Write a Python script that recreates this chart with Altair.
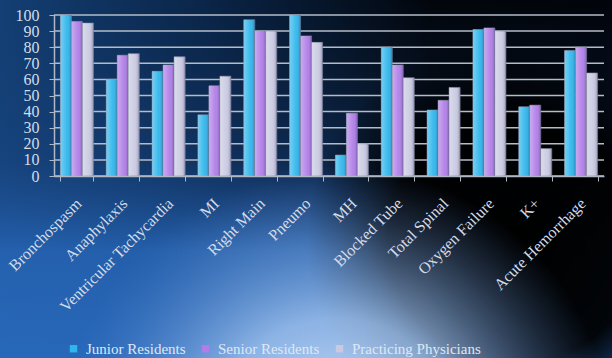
import altair as alt
import pandas as pd

categories = ["Bronchospasm", "Anaphylaxis", "Ventricular Tachycardia", "MI", "Right Main",
              "Pneumo", "MH", "Blocked Tube", "Total Spinal", "Oxygen Failure", "K+",
              "Acute Hemorrhage"]
series = ["Junior Residents", "Senior Residents", "Practicing Physicians"]
junior = [100, 60, 65, 38, 97, 100, 13, 80, 41, 91, 43, 78]
senior = [96, 75, 69, 56, 90, 87, 39, 69, 47, 92, 44, 80]
practicing = [95, 76, 74, 62, 90, 83, 20, 61, 55, 90, 17, 64]
grid_values = list(range(0, 101, 10))
colors = ["#2fb6ec", "#b07ee8", "#c9c9e2"]

rows = []
for vals, s in zip([junior, senior, practicing], series):
    for c, v in zip(categories, vals):
        rows.append({"Scenario": c, "Group": s, "Value": v})
df = pd.DataFrame(rows)
grid_df = pd.DataFrame({"Value": grid_values})

W, H = 550, 161
PL, PT = 54, 15
PR = 612 - W - PL
PB = 358 - H - PT

bg_df = pd.DataFrame({"k": [0]})

def bg_layer(fill):
    return alt.Chart(bg_df).mark_rect(color=fill).encode(
        x=alt.value(-PL), x2=alt.value(W + PR), y=alt.value(-PT), y2=alt.value(H + PB))

def stops(pairs):
    return [alt.GradientStop(offset=o, color=c) for o, c in pairs]

base_bg = bg_layer(alt.LinearGradient(
    gradient="linear", x1=0, y1=0, x2=1, y2=0,
    stops=stops([(0, "#133f74"), (0.35, "#0a2446"), (0.7, "#02060c"), (1, "#01040a")])))
vert_bg = bg_layer(alt.LinearGradient(
    gradient="linear", x1=0, y1=0, x2=0, y2=1,
    stops=stops([(0, "rgba(20,60,120,0)"), (0.45, "rgba(30,80,150,0.3)"),
                 (0.7, "rgba(38,100,180,0.9)"), (1, "rgba(40,104,186,1)")])))
dark_bg = bg_layer(alt.RadialGradient(
    gradient="radial", x1=0.84, y1=0.6, r1=0, x2=0.84, y2=0.6, r2=0.34,
    stops=stops([(0, "rgba(0,0,0,1)"), (0.6, "rgba(0,0,0,0.95)"), (1, "rgba(0,0,0,0)")])))
glow_bg = bg_layer(alt.RadialGradient(
    gradient="radial", x1=0.55, y1=0.93, r1=0, x2=0.55, y2=0.93, r2=0.45,
    stops=stops([(0, "rgba(210,228,250,1)"), (0.45, "rgba(165,198,240,0.8)"),
                 (1, "rgba(80,130,200,0)")])))

axis_font = "Liberation Serif"
label_color = "#d4dce8"
xenc = alt.X("Scenario:N", sort=categories, title=None,
             scale=alt.Scale(paddingInner=0.28, paddingOuter=0.14),
             axis=alt.Axis(labelAngle=-45, labelAlign="right", labelBaseline="top",
                           labelFont=axis_font, labelFontSize=16,
                           labelColor=label_color, tickBand="extent", tickColor="#b0b8c4",
                           domainColor="#b0b8c4", domainWidth=1.5, labelPadding=14,
                           labelOffset=-4, labelOverlap=False, zindex=1))
y_axis = alt.Axis(values=grid_values, labelFont=axis_font, tickCount=11,
                  labelFontSize=16, labelColor=label_color, grid=False,
                  labelOverlap=False, labelFlush=False,
                  domainColor="#b0b8c4", domainWidth=1.5,
                  tickColor="#b0b8c4", tickSize=5, labelPadding=10, zindex=1)
y_scale = alt.Scale(domain=[0, 100])

grid = alt.Chart(grid_df).mark_rule(color="#b4bcc8", strokeWidth=1.5).encode(
    y=alt.Y("Value:Q", title=None, scale=y_scale, axis=y_axis))

bars = alt.Chart(df).mark_bar(stroke="#8a8fa8", strokeWidth=0.6).encode(
    x=xenc, y=alt.Y("Value:Q", title=None, scale=y_scale, axis=y_axis),
    xOffset=alt.XOffset("Group:N", sort=series),
    color=alt.Color("Group:N", sort=series,
                    scale=alt.Scale(domain=series, range=colors),
                    legend=alt.Legend(title=None, orient="none", direction="horizontal",
                                      legendX=12, legendY=326, symbolType="square",
                                      symbolSize=55, symbolStrokeWidth=0,
                                      labelFont=axis_font, labelFontSize=15,
                                      labelColor="#dfe8f5", columnPadding=12,
                                      labelOffset=5, symbolOpacity=1)))

shine = alt.Chart(df).mark_bar(color=alt.LinearGradient(
    gradient="linear", x1=0, y1=0, x2=1, y2=0,
    stops=stops([(0, "rgba(255,255,255,0.35)"), (0.6, "rgba(255,255,255,0.05)"),
                 (1, "rgba(0,0,40,0.25)")]))).encode(
    x=alt.X("Scenario:N", sort=categories),
    y=alt.Y("Value:Q", scale=y_scale),
    xOffset=alt.XOffset("Group:N", sort=series))

chart = alt.layer(base_bg, vert_bg, dark_bg, glow_bg, grid, bars, shine).properties(
    width=W, height=H,
    autosize=alt.AutoSizeParams(type="none"),
    padding={"left": PL, "top": PT, "right": PR, "bottom": PB},
    background="#0b2240",
).configure_view(stroke=None)

chart.save("out.html", embed_options={"renderer": "svg", "actions": False})
